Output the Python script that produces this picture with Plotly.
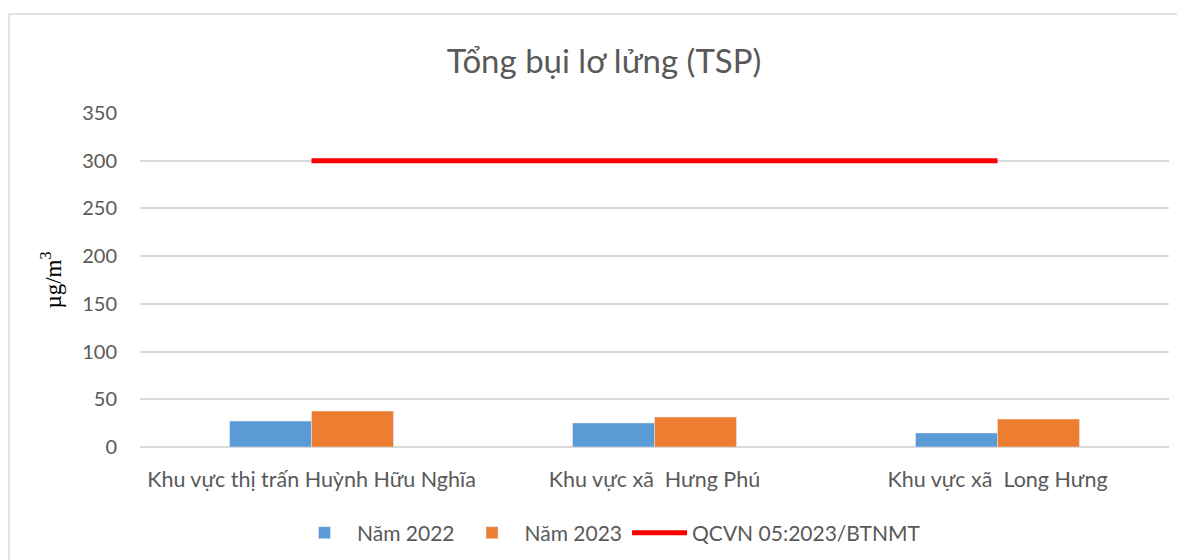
import plotly.graph_objects as go

categories = ["Khu vực thị trấn Huỳnh Hữu Nghĩa", "Khu vực xã  Hưng Phú", "Khu vực xã  Long Hưng"]
nam_2022 = [27.2, 25.2, 14.7]
nam_2023 = [37.7, 31.4, 29.3]
qcvn = [300, 300, 300]
y_ticks = [0, 50, 100, 150, 200, 250, 300, 350]

FONT = "Lato"
TXT = "#595959"

fig = go.Figure()
fig.add_trace(go.Bar(x=categories, y=nam_2022, name="Năm 2022", marker_color="#5B9BD5"))
fig.add_trace(go.Bar(x=categories, y=nam_2023, name="Năm 2023", marker_color="#ED7D31"))
fig.add_trace(go.Scatter(x=categories, y=qcvn, name="QCVN 05:2023/BTNMT", mode="lines",
                         line=dict(color="#FF0000", width=5)))

# page body adds an 8px offset; compensate so the chart lands where the reference has it
OFF = 8
W, H = 1185, 560
L, R, T, B = 140 - OFF, 1185 - 1169 + OFF, 113 - OFF, 560 - 447 + OFF
pw = W - L - R
ph = H - T - B

fig.update_layout(
    width=W, height=H,
    margin=dict(l=L, r=R, t=T, b=B),
    paper_bgcolor="white", plot_bgcolor="white",
    barmode="group", bargap=0.522, bargroupgap=0,
    font=dict(family=FONT, size=20, color=TXT),
    title=dict(text="Tổng bụi lơ lửng (TSP)", x=(604 - OFF) / W, xanchor="center",
               y=1 - (61 - OFF) / H, yanchor="middle",
               font=dict(family=FONT, size=33, color=TXT)),
    xaxis=dict(type="category", range=[-0.5, 2.5], showgrid=False, showline=False, zeroline=False,
               ticks="", tickfont=dict(family=FONT, size=21.5, color=TXT), ticklabelstandoff=17),
    yaxis=dict(range=[0, 350], tickvals=y_ticks, showgrid=True, gridcolor="#D9D9D9", gridwidth=1.5,
               zeroline=True, zerolinecolor="#D9D9D9", zerolinewidth=1.5, showline=False,
               ticks="", tickfont=dict(family=FONT, size=20, color=TXT), ticklabelstandoff=22,
               title=dict(text="µg/m<sup>3</sup>", standoff=14,
                          font=dict(family="Liberation Serif", size=23, color="#000000"))),
    legend=dict(orientation="h", x=(609 - L - OFF) / pw, xanchor="center",
                y=-(533 - 447) / ph, yanchor="middle",
                font=dict(family=FONT, size=21, color=TXT), itemwidth=55,
                traceorder="normal"),
    shapes=[dict(type="rect", xref="paper", yref="paper",
                 x0=(9 - OFF - L) / pw, x1=1.2, y0=-0.6, y1=(H - B - (14 - OFF)) / ph,
                 line=dict(color="#D9D9D9", width=1.5), fillcolor="rgba(0,0,0,0)", layer="below")],
)

fig.write_html("out.html")
